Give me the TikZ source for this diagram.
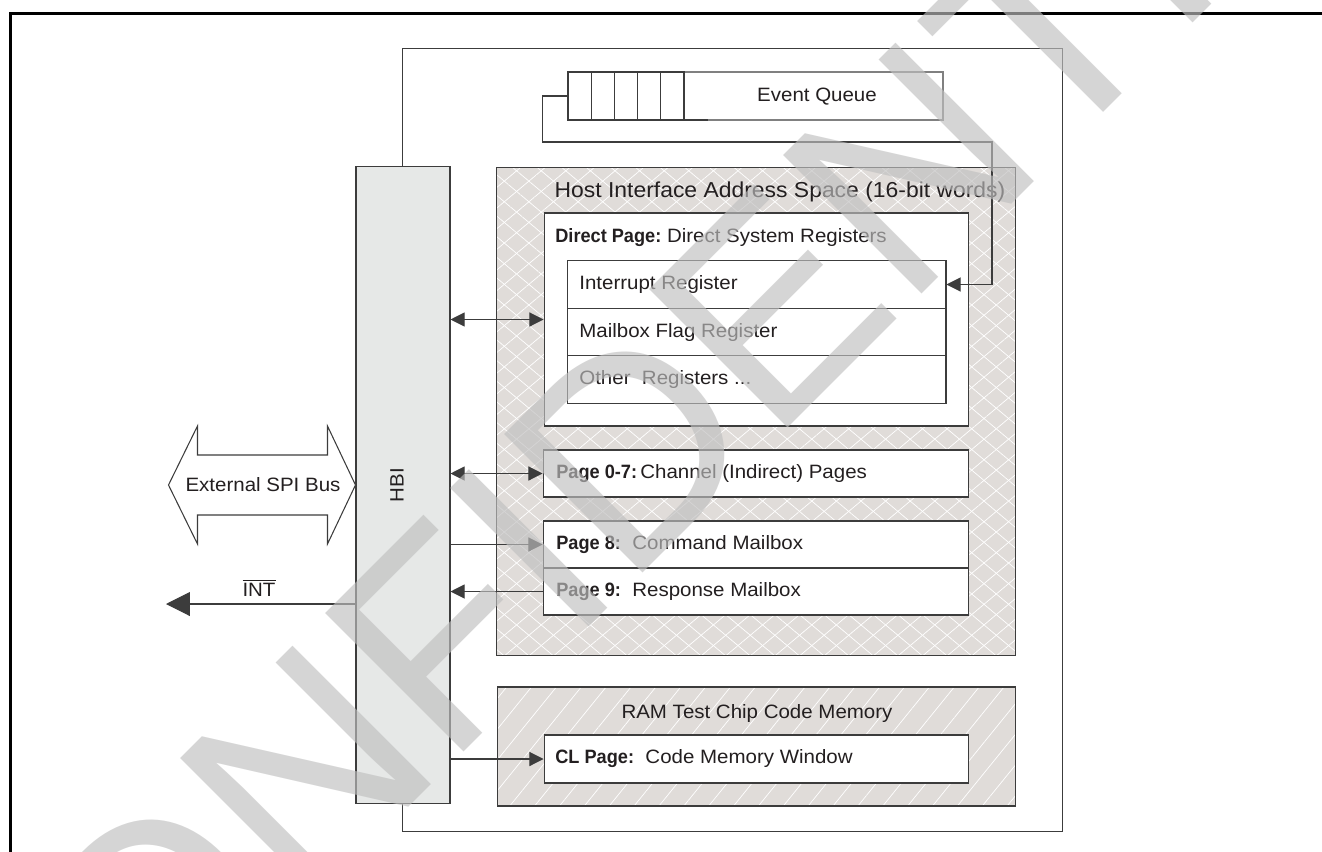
\documentclass[tikz,border=0pt]{standalone}
\usepackage{fontspec}
\setmainfont[FakeStretch=1.06, BoldFeatures={FakeStretch=0.94}]{Liberation Sans}
\newfontfamily\wmfont{Liberation Sans}
\usetikzlibrary{arrows.meta,patterns.meta}

\definecolor{linegray}{HTML}{3C3C3C}
\definecolor{textgray}{HTML}{231F20}
\definecolor{hbifill}{HTML}{E6E8E7}
\definecolor{hatchfill}{HTML}{E0DCD9}
\definecolor{wmgray}{HTML}{BFBFBF}

\tikzset{
  box/.style={draw=linegray, line width=0.6pt, fill=white, inner sep=0pt},
  crossbox/.style={fill=hatchfill, inner sep=0pt,
    postaction={pattern={Lines[angle=40,distance=9pt,line width=0.4pt]}, pattern color=white},
    postaction={pattern={Lines[angle=-40,distance=9pt,line width=0.4pt]}, pattern color=white},
    postaction={draw=linegray, line width=0.6pt}},
  slashbox/.style={fill=hatchfill, inner sep=0pt,
    postaction={pattern={Lines[angle=51,distance=11pt,line width=0.4pt]}, pattern color=white},
    postaction={draw=linegray, line width=0.6pt}},
  lbl/.style={anchor=west, inner sep=0pt},
  conn/.style={draw=linegray, line width=0.6pt},
  wmtext/.style={font=\wmfont\fontsize{162}{162}\selectfont, text=wmgray, text opacity=0.65, inner sep=0pt}
}

\begin{document}
\begin{tikzpicture}[x=0.02cm, y=-0.02cm, font=\fontsize{11}{13}\selectfont, text=textgray,
  >={Triangle[length=8pt,width=8pt]}]
\useasboundingbox (0,0) rectangle (1322,852);

% Frame
\draw[line width=1.7pt] (10.5,13.5) rectangle (1400,900);

% Chip
\node[box, minimum width=13.22cm, minimum height=15.68cm] (chip) at (732.5,440) {};

% HBI
\node[box, fill=hbifill, minimum width=1.88cm, minimum height=12.76cm] (hbi) at (403,485) {};
\node[rotate=90] (hbilabel) at (397,485) {HBI};

% Event queue
\node[box, draw=gray, minimum width=7.5cm, minimum height=0.96cm] (queue) at (755.5,96) {};
\foreach \i in {0,...,4}
  \draw[conn] (568+23.2*\i,72) rectangle ++(23.2,48);
\draw[conn] (684,120) -- (708,120);
\node (queuetext) at (817,97) {Event Queue};

% Host interface address space
\node[crossbox, minimum width=10.4cm, minimum height=9.78cm] (space) at (756,411.5) {};
\node[font=\fontsize{12.3}{14}\selectfont] (spacetitle) at (780,192) {Host Interface Address Space (16-bit words)};

% Direct page
\node[box, minimum width=8.5cm, minimum height=4.26cm] (direct) at (756.5,319.5) {};
\node[lbl] (directlabel) at (555,238) {\textbf{Direct Page:}\ Direct System Registers};
\node[box, minimum width=7.58cm, minimum height=0.946cm] (intreg) at (756.5,284.5) {};
\node[lbl] (intregtext) at (579,284.5) {Interrupt Register};
\node[box, minimum width=7.58cm, minimum height=0.946cm] (flagreg) at (756.5,332) {};
\node[lbl] (flagregtext) at (579,332) {Mailbox Flag Register};
\node[box, minimum width=7.58cm, minimum height=0.946cm] (otherreg) at (756.5,379.5) {};
\node[lbl] (otherregtext) at (579,379.5) {Other\ \ Registers ...};

% Indirect pages
\node[box, minimum width=8.52cm, minimum height=0.94cm] (chan) at (756,473.5) {};
\node[lbl] (chantext) at (556,473.5) {\textbf{Page 0-7:}\,Channel (Indirect) Pages};

% Mailboxes
\node[box, minimum width=8.52cm, minimum height=0.94cm] (cmdbox) at (756,544.5) {};
\node[lbl] (cmdtext) at (556,544.5) {\textbf{Page 8:}\ \ Command Mailbox};
\node[box, minimum width=8.52cm, minimum height=0.94cm] (rspbox) at (756,591.5) {};
\node[lbl] (rsptext) at (556,591.5) {\textbf{Page 9:}\ \ Response Mailbox};

% Code memory
\node[slashbox, minimum width=10.38cm, minimum height=2.38cm] (ram) at (756.5,746.5) {};
\node (ramtitle) at (757,713) {RAM Test Chip Code Memory};
\node[box, minimum width=8.5cm, minimum height=0.96cm] (clpage) at (756.5,759) {};
\node[lbl] (cltext) at (555,759) {\textbf{CL Page:}\ \ Code Memory Window};

% Connectors
\draw[conn, ->] (queue.west) -- ++(-25,0) |- (992,142) |- (intreg.east);
\draw[conn, <->] (hbi.east |- direct.west) -- (direct.west);
\draw[conn, <->] (hbi.east |- chan.west) -- (chan.west);
\draw[conn, ->] (hbi.east |- cmdbox.west) -- (cmdbox.west);
\draw[conn, ->] (rspbox.west) -- (hbi.east |- rspbox.west);
\draw[conn, ->] (hbi.east |- clpage.west) -- (clpage.west);

% External SPI bus
\draw[conn, fill=white] (hbi.west) -- ++(-28,-59) -- ++(0,29) -- ++(-130,0) -- ++(0,-29) -- ++(-29,59)
  -- ++(29,59) -- ++(0,-29) -- ++(130,0) -- ++(0,29) -- cycle;
\node (spi) at (263,485) {External SPI Bus};

% Interrupt line
\coordinate (intout) at (166,604);
\draw[conn, -{Triangle[length=13.6pt,width=13.6pt]}] (hbi.west |- intout) -- (intout);
\node (intlabel) at (259,588) {$\overline{\mbox{INT}}$};

% Watermark
\node[wmtext, rotate=45, anchor=base west] (wm) at (0,1216) {CONFIDENTIAL};
\end{tikzpicture}
\end{document}
